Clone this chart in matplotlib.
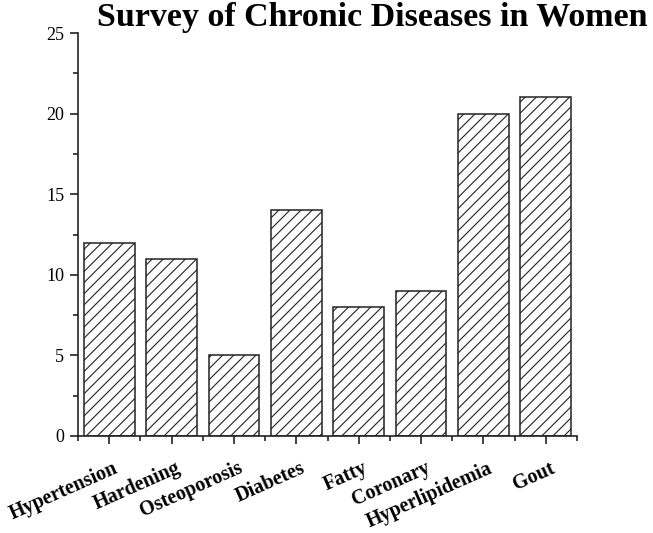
import matplotlib
matplotlib.use("Agg")
import matplotlib.pyplot as plt
import matplotlib.transforms as mtransforms
from matplotlib.ticker import MultipleLocator, FixedLocator

categories = ["Hypertension", "Hardening", "Osteoporosis", "Diabetes",
              "Fatty", "Coronary", "Hyperlipidemia", "Gout"]
values = [12, 11, 5, 14, 8, 9, 20, 21]
title = "Survey of Chronic Diseases in Women"

plt.rcParams['font.family'] = ['Liberation Serif', 'DejaVu Serif']
plt.rcParams['hatch.linewidth'] = 0.8
plt.rcParams['hatch.color'] = '#333333'

fig = plt.figure(figsize=(6.53, 5.33), dpi=100)
ax = fig.add_axes([78/653, 1-436/533, (577-78)/653, (436-33)/533])

x = list(range(1, len(categories) + 1))
ax.bar(x, values, width=0.815, facecolor='white', edgecolor='#222222',
       linewidth=1.1, hatch='///')

ax.set_xlim(0.5, len(categories) + 0.5)
ax.set_ylim(0, 25)
ax.spines['top'].set_visible(False)
ax.spines['right'].set_visible(False)
for s in ('left', 'bottom'):
    ax.spines[s].set_linewidth(1.2)
    ax.spines[s].set_color('#222222')

ax.yaxis.set_major_locator(MultipleLocator(5))
ax.yaxis.set_minor_locator(MultipleLocator(2.5))
ax.set_xticks(x)
ax.xaxis.set_minor_locator(FixedLocator([i + 0.5 for i in range(0, len(categories) + 1)]))
ax.tick_params(axis='both', which='major', direction='out', length=6, width=1.2,
               color='#222222')
ax.tick_params(axis='both', which='minor', direction='out', length=3.5, width=1.2,
               color='#222222')
ax.tick_params(axis='y', which='major', labelsize=13, pad=4)
ax.set_yticklabels([str(int(v)) for v in ax.get_yticks()])

ax.set_xticklabels(categories, rotation=24, ha='right', rotation_mode='anchor',
                   fontweight='bold', fontsize=14.5)
ax.tick_params(axis='x', which='major', pad=10)
offset = mtransforms.ScaledTranslation(4/100, 0, fig.dpi_scale_trans)
for lbl in ax.get_xticklabels():
    lbl.set_transform(lbl.get_transform() + offset)

fig.text(372/653, 1-26/533, title, ha='center', va='baseline',
         fontsize=24.5, fontweight='bold')

fig.savefig("out.png", dpi=100)
